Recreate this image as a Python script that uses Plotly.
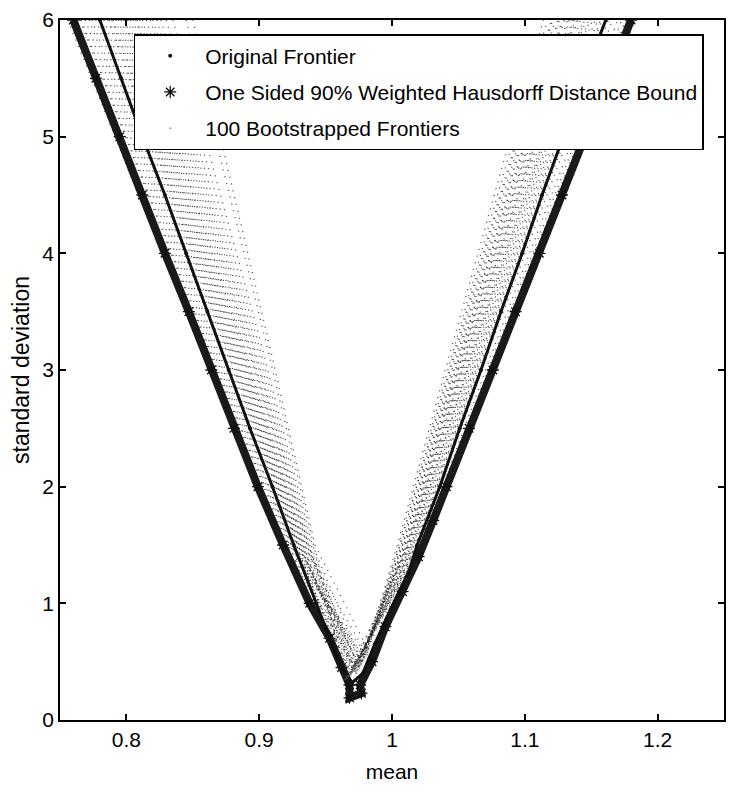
import plotly.graph_objects as go

# ---------------- data ----------------
# Original frontier (mean, standard deviation)
orig_mean = [0.780, 0.796, 0.812, 0.829, 0.845, 0.861, 0.877, 0.893, 0.910, 0.926, 0.943, 0.953, 0.962, 0.970,
             0.978, 0.987, 0.999, 1.012, 1.019, 1.036, 1.051, 1.067, 1.082, 1.098, 1.113, 1.129, 1.144, 1.161]
orig_std = [6.0, 5.5, 5.0, 4.5, 4.0, 3.5, 3.0, 2.5, 2.0, 1.5, 1.0, 0.7, 0.45, 0.32,
            0.40, 0.65, 0.95, 1.25, 1.5, 2.0, 2.5, 3.0, 3.5, 4.0, 4.5, 5.0, 5.5, 6.0]

# One sided 90% weighted Hausdorff distance bound
bound_mean = [0.760, 0.777, 0.795, 0.812, 0.829, 0.847, 0.864, 0.881, 0.899, 0.918, 0.938, 0.953, 0.962, 0.968,
              0.968, 0.977, 0.976, 0.985, 0.995, 1.008, 1.020, 1.031, 1.041, 1.058, 1.076, 1.093, 1.111, 1.128,
              1.145, 1.163, 1.180]
bound_std = [6.0, 5.5, 5.0, 4.5, 4.0, 3.5, 3.0, 2.5, 2.0, 1.5, 1.0, 0.7, 0.45, 0.30,
             0.19, 0.23, 0.30, 0.5, 0.8, 1.1, 1.4, 1.71, 2.0, 2.5, 3.0, 3.5, 4.0, 4.5,
             5.0, 5.5, 6.0]

# Bootstrapped frontiers: mean at std levels 6.0, 3.2, 1.5 on each arm, plus the vertex
boot_std_levels = [6.0, 3.2, 1.5]
boot_left_6 = [0.772, 0.790, 0.805, 0.765, 0.798, 0.815, 0.783, 0.826, 0.760, 0.794, 0.810, 0.777,
               0.835, 0.801, 0.787, 0.820, 0.769, 0.808, 0.845, 0.792, 0.756, 0.812, 0.781, 0.799,
               0.830, 0.774, 0.803, 0.818, 0.786, 0.796, 0.850, 0.766, 0.807, 0.789, 0.823, 0.779]
boot_left_32 = [0.866, 0.878, 0.886, 0.861, 0.882, 0.892, 0.874, 0.898, 0.858, 0.880, 0.889, 0.870,
                0.902, 0.884, 0.876, 0.895, 0.864, 0.887, 0.906, 0.879, 0.855, 0.891, 0.872, 0.883,
                0.900, 0.868, 0.885, 0.893, 0.875, 0.881, 0.908, 0.862, 0.888, 0.877, 0.896, 0.871]
boot_left_15 = [0.924, 0.929, 0.933, 0.921, 0.931, 0.936, 0.927, 0.938, 0.919, 0.930, 0.934, 0.925,
                0.940, 0.932, 0.928, 0.937, 0.923, 0.933, 0.941, 0.929, 0.918, 0.935, 0.926, 0.931,
                0.939, 0.924, 0.932, 0.936, 0.928, 0.930, 0.942, 0.922, 0.934, 0.929, 0.937, 0.926]
boot_vertex_mean = [0.972, 0.975, 0.968, 0.978, 0.970, 0.973, 0.976, 0.966, 0.971, 0.974, 0.980, 0.969,
                    0.977, 0.975, 0.967, 0.972, 0.979, 0.970, 0.965, 0.974, 0.981, 0.971, 0.976, 0.969,
                    0.973, 0.978, 0.970, 0.975, 0.966, 0.972, 0.982, 0.968, 0.977, 0.973, 0.974, 0.969]
boot_vertex_std = [0.42, 0.48, 0.38, 0.55, 0.45, 0.40, 0.52, 0.36, 0.47, 0.43, 0.58, 0.39,
                   0.50, 0.46, 0.37, 0.44, 0.53, 0.41, 0.35, 0.49, 0.56, 0.42, 0.47, 0.40,
                   0.45, 0.51, 0.43, 0.46, 0.38, 0.44, 0.60, 0.39, 0.48, 0.42, 0.47, 0.41]
boot_right_15 = [1.016, 1.010, 1.021, 1.006, 1.013, 1.018, 1.008, 1.024, 1.012, 1.015, 1.004, 1.019,
                 1.011, 1.009, 1.022, 1.014, 1.007, 1.017, 1.026, 1.012, 1.005, 1.016, 1.010, 1.020,
                 1.013, 1.008, 1.018, 1.011, 1.023, 1.014, 1.006, 1.019, 1.009, 1.015, 1.012, 1.021]
boot_right_32 = [1.064, 1.055, 1.074, 1.048, 1.060, 1.068, 1.052, 1.080, 1.058, 1.062, 1.045, 1.070,
                 1.056, 1.053, 1.077, 1.061, 1.050, 1.066, 1.085, 1.057, 1.047, 1.065, 1.054, 1.071,
                 1.059, 1.051, 1.067, 1.055, 1.079, 1.063, 1.049, 1.069, 1.053, 1.062, 1.058, 1.073]
boot_right_6 = [1.148, 1.132, 1.166, 1.120, 1.140, 1.155, 1.126, 1.176, 1.137, 1.145, 1.114, 1.158,
                1.134, 1.128, 1.170, 1.142, 1.123, 1.151, 1.183, 1.136, 1.117, 1.149, 1.130, 1.160,
                1.139, 1.125, 1.153, 1.133, 1.173, 1.146, 1.121, 1.157, 1.129, 1.144, 1.138, 1.163]

x_ticks = [0.8, 0.9, 1.0, 1.1, 1.2]
x_tick_labels = ["0.8", "0.9", "1", "1.1", "1.2"]
y_ticks = [0, 1, 2, 3, 4, 5, 6]

# ---------------- figure ----------------
FONT = "Liberation Sans, Arial, sans-serif"

fig = go.Figure()

# bootstrapped frontiers as dotted grey polylines (one trace, None separated)
bx, by = [], []
s6, s32, s15 = boot_std_levels
for i in range(len(boot_left_6)):
    bx += [boot_left_6[i], boot_left_32[i], boot_left_15[i], boot_vertex_mean[i],
           boot_right_15[i], boot_right_32[i], boot_right_6[i], None]
    by += [s6, s32, s15, boot_vertex_std[i], s15, s32, s6, None]
fig.add_trace(go.Scatter(x=bx, y=by, mode="lines", connectgaps=False,
                         line=dict(color="rgba(25,25,25,0.8)", width=1.3, dash="1px,6px"),
                         showlegend=False, hoverinfo="skip"))

# bound band (thick line + asterisks)
fig.add_trace(go.Scatter(x=bound_mean, y=bound_std, mode="lines",
                         line=dict(color="#1a1a1a", width=8), showlegend=False, hoverinfo="skip"))

# original frontier line
fig.add_trace(go.Scatter(x=orig_mean, y=orig_std, mode="lines",
                         line=dict(color="#111111", width=3), showlegend=False, hoverinfo="skip"))

# legend-bearing marker traces
fig.add_trace(go.Scatter(x=orig_mean, y=orig_std, mode="markers", name="Original Frontier",
                         legendgroup="a",
                         marker=dict(symbol="circle", size=4, color="#111111")))
fig.add_trace(go.Scatter(x=bound_mean, y=bound_std, mode="markers",
                         name="One Sided 90% Weighted Hausdorff Distance Bound",
                         legendgroup="b",
                         marker=dict(symbol="asterisk", size=10, color="#111111",
                                     line=dict(color="#111111", width=1.3))))
fig.add_trace(go.Scatter(x=boot_vertex_mean, y=boot_vertex_std, mode="markers",
                         name="100 Bootstrapped Frontiers",
                         legendgroup="c",
                         marker=dict(symbol="circle", size=2, color="rgba(90,90,90,0.6)")))

axis_common = dict(showline=True, linecolor="black", linewidth=1.5, mirror="ticks",
                   ticks="inside", ticklen=6, tickwidth=1.5, tickcolor="black",
                   showgrid=False, zeroline=False,
                   tickfont=dict(family=FONT, size=21, color="black"))

fig.update_xaxes(range=[0.75, 1.25], tickvals=x_ticks, ticktext=x_tick_labels,
                 title=dict(text="mean", font=dict(family=FONT, size=21, color="black"), standoff=14),
                 **axis_common)
fig.update_yaxes(range=[0, 6], tickvals=y_ticks,
                 title=dict(text="standard deviation", font=dict(family=FONT, size=23, color="black"),
                            standoff=6),
                 **axis_common)

fig.update_layout(
    width=730, height=798,
    margin=dict(l=60, r=6, t=20, b=78, autoexpand=False),
    paper_bgcolor="white", plot_bgcolor="white",
    font=dict(family=FONT, color="black"),
    legend=dict(x=0.111, y=0.98, xanchor="left", yanchor="top",
                bgcolor="white", bordercolor="black", borderwidth=1.5,
                font=dict(family=FONT, size=21, color="black"),
                itemsizing="trace", itemwidth=60, traceorder="grouped", tracegroupgap=6),
)

fig.write_html("out.html")
